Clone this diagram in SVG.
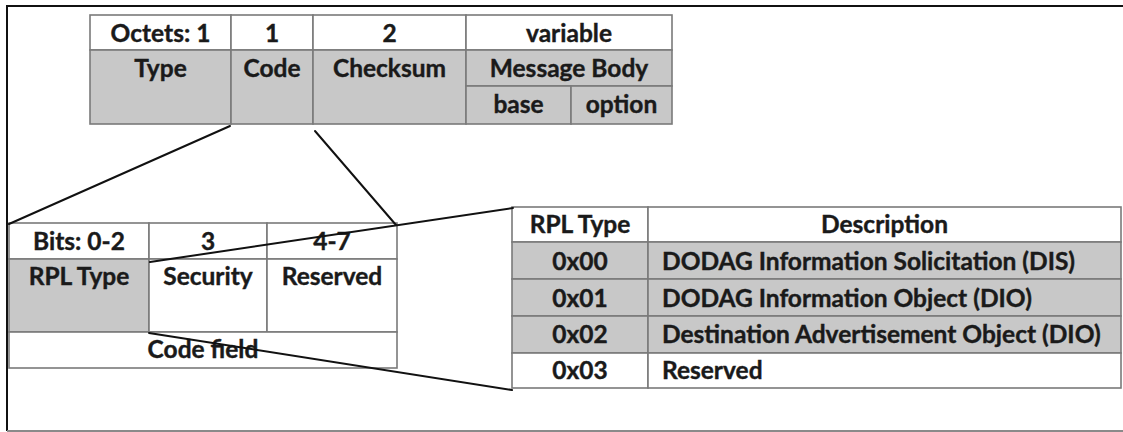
<svg xmlns="http://www.w3.org/2000/svg" width="1123" height="432" viewBox="0 0 1123 432">
  <style>
    .cell { stroke: #7a7a7a; stroke-width: 1.6; }
    .w { fill: #ffffff; }
    .g { fill: #c8c8c8; }
    .t { font-family: Lato, "Open Sans", "Liberation Sans", sans-serif; font-weight: 700; font-size: 24.5px; fill: #1a1a1a; stroke: #1a1a1a; stroke-width: 0.4; }
    .c { text-anchor: middle; }
    .link { stroke: #111111; stroke-width: 2; fill: none; stroke-linecap: round; }
  </style>

  <rect x="0" y="0" width="1123" height="432" fill="#ffffff"/>
  <!-- frame -->
  <path d="M7 431 L7 6 L1123 6" fill="none" stroke="#111111" stroke-width="2"/>
  <line x1="7" y1="431" x2="1123" y2="431" stroke="#8a8a8a" stroke-width="2"/>

  <!-- ICMPv6 header layout -->
  <g id="icmp-header">
    <rect class="cell w" x="90" y="15" width="141" height="35"/>
    <rect class="cell w" x="231" y="15" width="82" height="35"/>
    <rect class="cell w" x="313" y="15" width="153" height="35"/>
    <rect class="cell w" x="466" y="15" width="206" height="35"/>
    <rect class="cell g" x="90" y="50" width="141" height="74"/>
    <rect class="cell g" x="231" y="50" width="82" height="74"/>
    <rect class="cell g" x="313" y="50" width="153" height="74"/>
    <rect class="cell g" x="466" y="50" width="206" height="36"/>
    <rect class="cell g" x="466" y="86" width="105" height="38"/>
    <rect class="cell g" x="571" y="86" width="101" height="38"/>
    <text class="t c" x="160.5" y="42">Octets: 1</text>
    <text class="t c" x="272" y="42">1</text>
    <text class="t c" x="389.5" y="42">2</text>
    <text class="t c" x="569" y="42">variable</text>
    <text class="t c" x="160.5" y="77">Type</text>
    <text class="t c" x="272" y="77">Code</text>
    <text class="t c" x="389.5" y="77">Checksum</text>
    <text class="t c" x="569" y="77">Message Body</text>
    <text class="t c" x="518.5" y="113">base</text>
    <text class="t c" x="621.5" y="113">option</text>
  </g>

  <!-- Code field bit layout -->
  <g id="code-field">
    <rect class="cell w" x="9" y="223" width="140" height="36"/>
    <rect class="cell w" x="149" y="223" width="118" height="36"/>
    <rect class="cell w" x="267" y="223" width="130" height="36"/>
    <rect class="cell g" x="9" y="259" width="140" height="73"/>
    <rect class="cell w" x="149" y="259" width="118" height="73"/>
    <rect class="cell w" x="267" y="259" width="130" height="73"/>
    <rect class="cell w" x="9" y="332" width="388" height="36"/>
    <text class="t c" x="79" y="250">Bits: 0-2</text>
    <text class="t c" x="208" y="250">3</text>
    <text class="t c" x="332" y="250">4-7</text>
    <text class="t c" x="79" y="285">RPL Type</text>
    <text class="t c" x="208" y="285">Security</text>
    <text class="t c" x="332" y="285">Reserved</text>
    <text class="t c" x="203" y="358">Code field</text>
  </g>

  <!-- RPL message types -->
  <g id="rpl-types">
    <rect class="cell w" x="512" y="207" width="136" height="35"/>
    <rect class="cell w" x="648" y="207" width="473" height="35"/>
    <rect class="cell g" x="512" y="242" width="136" height="37"/>
    <rect class="cell g" x="648" y="242" width="473" height="37"/>
    <rect class="cell g" x="512" y="279" width="136" height="37"/>
    <rect class="cell g" x="648" y="279" width="473" height="37"/>
    <rect class="cell g" x="512" y="316" width="136" height="37"/>
    <rect class="cell g" x="648" y="316" width="473" height="37"/>
    <rect class="cell w" x="512" y="353" width="136" height="35"/>
    <rect class="cell w" x="648" y="353" width="473" height="35"/>
    <text class="t c" x="580" y="233">RPL Type</text>
    <text class="t c" x="884.5" y="233">Description</text>
    <text class="t c" x="580" y="270">0x00</text>
    <text class="t c" x="580" y="307">0x01</text>
    <text class="t c" x="580" y="343">0x02</text>
    <text class="t c" x="580" y="379">0x03</text>
    <text class="t" x="662" y="270">DODAG Information Solicitation (DIS)</text>
    <text class="t" x="662" y="307">DODAG Information Object (DIO)</text>
    <text class="t" x="662" y="343">Destination Advertisement Object (DIO)</text>
    <text class="t" x="662" y="379">Reserved</text>
  </g>

  <!-- zoom-out connectors -->
  <g id="connectors">
    <line class="link" x1="230" y1="126" x2="9" y2="224"/>
    <line class="link" x1="315" y1="131" x2="396" y2="225"/>
    <line class="link" x1="150" y1="262" x2="513" y2="208"/>
    <line class="link" x1="149" y1="333" x2="512" y2="390"/>
  </g>
</svg>
